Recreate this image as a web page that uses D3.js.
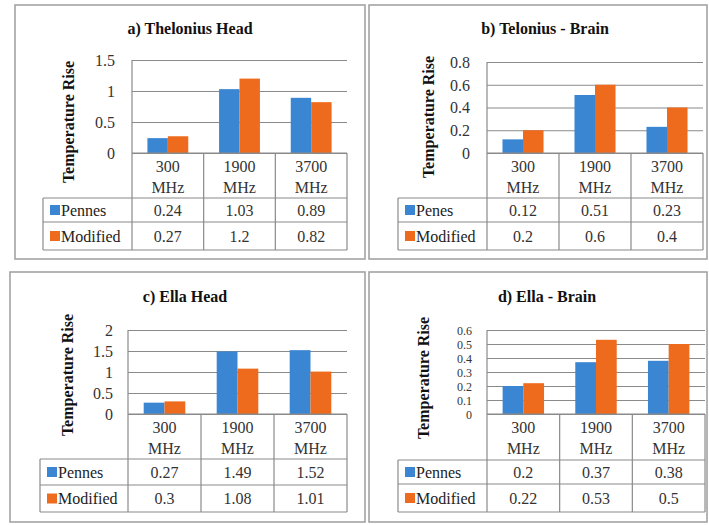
<!DOCTYPE html>
<html>
<head>
<meta charset="utf-8">
<title>Temperature Rise</title>
<style>
  body { margin: 0; background: #fff; }
  svg, svg text { font-family: "Liberation Serif", "DejaVu Serif", "Times New Roman", serif !important; }
</style>
<script src="https://d3js.org/d3.v7.min.js"></script>
</head>
<body>
<svg width="709" height="525"></svg>
<script>
// data
var categories = ["300", "1900", "3700"];
var catUnit = "MHz";
var titles = ["a) Thelonius Head", "b) Telonius - Brain", "c) Ella Head", "d) Ella - Brain"];
var seriesNames = [["Pennes", "Modified"], ["Penes", "Modified"], ["Pennes", "Modified"], ["Pennes", "Modified"]];
var pennes = [[0.24, 1.03, 0.89], [0.12, 0.51, 0.23], [0.27, 1.49, 1.52], [0.2, 0.37, 0.38]];
var modified = [[0.27, 1.2, 0.82], [0.2, 0.6, 0.4], [0.3, 1.08, 1.01], [0.22, 0.53, 0.5]];
var yMax = [1.5, 0.8, 2, 0.6];
var yStep = [0.5, 0.2, 0.5, 0.1];
var yLabel = "Temperature Rise";

var colors = ["#3b86d3", "#ee6a1c"];
var serif = "'Liberation Serif', 'DejaVu Serif', serif";

// layout of each panel
var layout = [
  {box: [15, 5, 365, 259], plotL: 132, plotR: 347, yTop: 60, yZero: 153, hdr: 198, r1: 222, r2: 250, tabL: 43, titleX: 190, titleY: 34, labelX: 68, labelY: 122, tickX: 115, tickFont: 16},
  {box: [369, 5, 707, 259], plotL: 487, plotR: 703, yTop: 62, yZero: 153, hdr: 198, r1: 222, r2: 250, tabL: 398, titleX: 545, titleY: 34, labelX: 428, labelY: 117, tickX: 470, tickFont: 16},
  {box: [10, 272, 365, 522], plotL: 128, plotR: 347, yTop: 330, yZero: 414, hdr: 459, r1: 485, r2: 512, tabL: 40, titleX: 185, titleY: 302, labelX: 67, labelY: 375, tickX: 113, tickFont: 16},
  {box: [369, 272, 707, 522], plotL: 487, plotR: 705, yTop: 330, yZero: 414, hdr: 460, r1: 484, r2: 512, tabL: 398, titleX: 547, titleY: 302, labelX: 423, labelY: 378, tickX: 472, tickFont: 12}
];

var svg = d3.select("svg").attr("font-family", serif);
var fmt = function(v){ return String(+v.toFixed(2)); };

layout.forEach(function(L, p){
  var g = svg.append("g");
  var b = L.box;

  // panel frame
  g.append("rect")
    .attr("x", b[0]).attr("y", b[1])
    .attr("width", b[2] - b[0]).attr("height", b[3] - b[1])
    .attr("fill", "#fff").attr("stroke", "#a3a3a3").attr("stroke-width", 1.6);

  var x = d3.scaleBand().domain(categories).range([L.plotL, L.plotR]);
  var bw = x.bandwidth();
  var xs = d3.scaleBand().domain([0, 1]).range([bw / 2 - bw * 0.285, bw / 2 + bw * 0.285]);
  var y = d3.scaleLinear().domain([0, yMax[p]]).range([L.yZero, L.yTop]);
  var nt = Math.round(yMax[p] / yStep[p]);

  // gridlines
  var grid = g.append("g")
    .attr("transform", "translate(" + L.plotL + ",0)")
    .call(d3.axisLeft(y).ticks(nt).tickSize(-(L.plotR - L.plotL)).tickFormat(""));
  grid.select(".domain").remove();
  grid.selectAll("line").attr("stroke", "#8a8a8a").attr("stroke-width", 1.2);

  // tick labels
  var ax = g.append("g")
    .attr("transform", "translate(" + L.tickX + ",0)")
    .call(d3.axisLeft(y).ticks(nt).tickSize(0).tickPadding(0).tickFormat(fmt));
  ax.attr("font-family", serif);
  ax.select(".domain").remove();
  ax.selectAll("text")
    .attr("font-size", L.tickFont)
    .attr("fill", "#333").attr("dy", "0.34em");

  // left axis line
  g.append("line")
    .attr("x1", L.plotL).attr("x2", L.plotL)
    .attr("y1", L.yTop).attr("y2", L.yZero)
    .attr("stroke", "#8a8a8a").attr("stroke-width", 1.2);

  // bars
  var vals = [pennes[p], modified[p]];
  vals.forEach(function(series, s){
    g.append("g").selectAll("rect")
      .data(series)
      .enter().append("rect")
      .attr("x", function(d, i){ return x(categories[i]) + xs(s); })
      .attr("width", xs.bandwidth())
      .attr("y", function(d){ return y(d); })
      .attr("height", function(d){ return y(0) - y(d); })
      .attr("fill", colors[s]);
  });

  // data table lines
  var tl = g.append("g").attr("stroke", "#8a8a8a").attr("stroke-width", 1.2);
  tl.append("line").attr("x1", L.plotL).attr("x2", L.plotR).attr("y1", L.yZero).attr("y2", L.yZero);
  [L.hdr, L.r1, L.r2].forEach(function(yy){
    tl.append("line").attr("x1", L.tabL).attr("x2", L.plotR).attr("y1", yy).attr("y2", yy);
  });
  tl.append("line").attr("x1", L.tabL).attr("x2", L.tabL).attr("y1", L.hdr).attr("y2", L.r2);
  categories.forEach(function(c){
    tl.append("line").attr("x1", x(c)).attr("x2", x(c)).attr("y1", L.yZero).attr("y2", L.r2);
  });
  tl.append("line").attr("x1", L.plotR).attr("x2", L.plotR).attr("y1", L.yZero).attr("y2", L.r2);

  // category labels
  var cl = g.append("g").attr("font-size", 16).attr("fill", "#333").attr("text-anchor", "middle");
  categories.forEach(function(c){
    var cx = x(c) + bw / 2;
    cl.append("text").attr("x", cx).attr("y", L.yZero + 19).text(c);
    cl.append("text").attr("x", cx).attr("y", L.yZero + 40).text(catUnit);
  });

  // table rows
  var rows = [[L.hdr, L.r1], [L.r1, L.r2]];
  rows.forEach(function(r, s){
    var cy = (r[0] + r[1]) / 2;
    g.append("rect")
      .attr("x", L.tabL + 7).attr("y", cy - 5)
      .attr("width", 10).attr("height", 10)
      .attr("fill", colors[s]);
    g.append("text")
      .attr("x", L.tabL + 18).attr("y", cy + 5.5)
      .attr("font-size", 16).attr("fill", "#222")
      .text(seriesNames[p][s]);
    g.append("g").selectAll("text")
      .data(vals[s])
      .enter().append("text")
      .attr("x", function(d, i){ return x(categories[i]) + bw / 2; })
      .attr("y", cy + 5.5)
      .attr("text-anchor", "middle")
      .attr("font-size", 16).attr("fill", "#333")
      .text(fmt);
  });

  // title
  g.append("text")
    .attr("x", L.titleX).attr("y", L.titleY)
    .attr("text-anchor", "middle")
    .attr("font-size", 16).attr("font-weight", "bold").attr("fill", "#111")
    .text(titles[p]);

  // y label
  g.append("text")
    .attr("transform", "translate(" + L.labelX + "," + L.labelY + ") rotate(-90)")
    .attr("text-anchor", "middle").attr("dy", "0.35em")
    .attr("font-size", 16).attr("font-weight", "bold").attr("fill", "#111")
    .text(yLabel);
});
</script>
</body>
</html>
